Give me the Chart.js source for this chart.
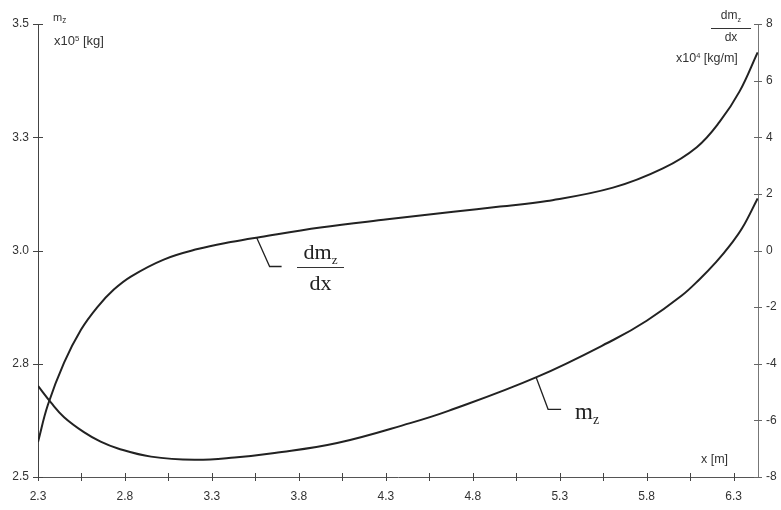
<!DOCTYPE html>
<html>
<head>
<meta charset="utf-8">
<title>m_z and dm_z/dx</title>
<script src="https://cdn.jsdelivr.net/npm/chart.js@4.4.1/dist/chart.umd.min.js"></script>
<style>
body{margin:0;background:#fff;}
#wrap{position:relative;width:781px;height:510px;font-family:"Liberation Sans",Arial,sans-serif;color:#333;}
#chart{position:absolute;left:0;top:0;}
.lbl{position:absolute;white-space:nowrap;line-height:1;}
.serif{font-family:"Liberation Serif","Times New Roman",serif;color:#222;}
.sub{font-size:60%;position:relative;top:0.35em;}
.sup{font-size:60%;position:relative;top:-0.5em;}
.frac{text-align:center;}
.bar{border-top:1px solid #333;}
</style>
</head>
<body>
<div id="wrap">
<canvas id="chart" width="781" height="510"></canvas>

<!-- axis captions -->
<div class="lbl" style="left:53px;top:12px;font-size:11px">m<span class="sub" style="font-size:75%;top:0.2em">z</span></div>
<div class="lbl" style="left:54px;top:34px;font-size:13px">x10<span class="sup">5</span> [kg]</div>

<div class="lbl frac" style="left:711px;top:9px;width:40px;font-size:12px">
  <div style="padding-bottom:7px">dm<span class="sub">z</span></div>
  <div class="bar" style="padding-top:2px">dx</div>
</div>
<div class="lbl" style="left:676px;top:52px;font-size:12.5px">x10<span class="sup">4</span> [kg/m]</div>
<div class="lbl" style="left:701px;top:453px;font-size:12.5px">x [m]</div>

<!-- curve labels -->
<div class="lbl serif frac" style="left:297px;top:241px;width:47px;font-size:22px">
  <div style="padding-bottom:4px">dm<span class="sub">z</span></div>
  <div class="bar" style="padding-top:4px">dx</div>
</div>
<div class="lbl serif" style="left:575px;top:400px;font-size:23px">m<span class="sub">z</span></div>
</div>

<script>
// m_z curve, x [m] and m_z [x10^5 kg]
let mzX=[2.30,2.375,2.45,2.564,2.66,2.76,2.95,3.20,3.43,3.66,4.02,4.44,4.66,5.17,5.61,5.80,6.00,6.10,6.20,6.28,6.35,6.438];
let mzY=[2.701,2.664,2.632,2.599,2.578,2.563,2.545,2.538,2.543,2.553,2.575,2.619,2.646,2.721,2.803,2.845,2.900,2.935,2.975,3.012,3.050,3.115];

// dm_z/dx curve, x [m] and dm/dx [x10^4 kg/m]
let dmX=[2.30,2.357,2.45,2.547,2.644,2.736,2.834,3.023,3.218,3.408,3.58,3.924,4.309,4.688,4.957,5.227,5.606,5.893,6.088,6.22,6.334,6.438];
let dmY=[-6.76,-5.45,-3.96,-2.80,-1.98,-1.38,-0.92,-0.32,0.05,0.30,0.48,0.81,1.10,1.37,1.55,1.75,2.22,2.90,3.65,4.55,5.62,7.00];

// tick positions
let xTicks=[2.3,2.55,2.8,3.05,3.3,3.55,3.8,4.05,4.3,4.55,4.8,5.05,5.3,5.55,5.8,6.05,6.3];
let mzTicks=[2.5,2.75,3.0,3.25,3.5];
let dmTicks=[-8,-6,-4,-2,0,2,4,6,8];

// where the two leader lines leave their curves
let dmAnchor=[3.557,0.46];
let mzAnchor=[5.164,2.720];

function pts(xs,ys){
    return xs.map(function(x,i){ return {x:x,y:ys[i]}; });
}

function setTicks(list){
    return function(scale){
        scale.ticks=list.map(function(v){ return {value:v}; });
    };
}

let tickFont={family:"'Liberation Sans', Arial, sans-serif",size:12};

// short tick marks that cross the axis lines, plus the label leaders
let crossTicks={
    id:"crossTicks",
    afterDraw:function(chart){
        let ctx=chart.ctx;
        let a=chart.chartArea;
        let sx=chart.scales.x, sy=chart.scales.y, sy2=chart.scales.y2;
        ctx.save();
        ctx.lineWidth=1;
        ctx.strokeStyle="#444";
        sx.ticks.forEach(function(t){
            let p=Math.round(sx.getPixelForValue(t.value))+0.5;
            ctx.beginPath(); ctx.moveTo(p,a.bottom-4); ctx.lineTo(p,a.bottom+4); ctx.stroke();
        });
        sy.ticks.forEach(function(t){
            let p=Math.round(sy.getPixelForValue(t.value))+0.5;
            ctx.beginPath(); ctx.moveTo(a.left-5,p); ctx.lineTo(a.left+5,p); ctx.stroke();
        });
        ctx.strokeStyle="#666";
        sy2.ticks.forEach(function(t){
            let p=Math.round(sy2.getPixelForValue(t.value))+0.5;
            ctx.beginPath(); ctx.moveTo(a.right-4,p); ctx.lineTo(a.right+4,p); ctx.stroke();
        });

        // leaders
        ctx.strokeStyle="#222";
        ctx.lineWidth=1.3;
        let x0=sx.getPixelForValue(dmAnchor[0]), y0=sy2.getPixelForValue(dmAnchor[1]);
        ctx.beginPath(); ctx.moveTo(x0,y0); ctx.lineTo(x0+13,y0+29); ctx.lineTo(x0+25,y0+29); ctx.stroke();
        x0=sx.getPixelForValue(mzAnchor[0]); y0=sy.getPixelForValue(mzAnchor[1]);
        ctx.beginPath(); ctx.moveTo(x0,y0); ctx.lineTo(x0+12,y0+32); ctx.lineTo(x0+25,y0+32); ctx.stroke();
        ctx.restore();
    }
};

new Chart($("chart"),{
    type:"line",
    data:{
        datasets:[{
            label:"m_z",
            data:pts(mzX,mzY),
            yAxisID:"y",
            borderColor:"#222",
            borderWidth:2,
            pointRadius:0,
            tension:0.4
        },{
            label:"dm_z/dx",
            data:pts(dmX,dmY),
            yAxisID:"y2",
            borderColor:"#222",
            borderWidth:2,
            pointRadius:0,
            tension:0.4
        }]
    },
    options:{
        responsive:false,
        animation:false,
        layout:{padding:{top:24}},
        plugins:{legend:{display:false},tooltip:{enabled:false}},
        scales:{
            x:{
                type:"linear",
                min:2.3,
                max:6.44,
                afterBuildTicks:setTicks(xTicks),
                afterFit:function(s){ s.height=33; },
                grid:{display:false,drawTicks:false},
                border:{display:true,color:"#555",width:1},
                ticks:{
                    autoSkip:false,
                    maxRotation:0,
                    padding:12,
                    color:"#333",
                    font:tickFont,
                    callback:function(v,i){ return i%2===0 ? v.toFixed(1) : ""; }
                }
            },
            y:{
                type:"linear",
                position:"left",
                min:2.5,
                max:3.5,
                afterBuildTicks:setTicks(mzTicks),
                afterFit:function(s){ s.width=38; },
                grid:{display:false,drawTicks:false},
                border:{display:true,color:"#444",width:1},
                ticks:{
                    padding:9,
                    color:"#333",
                    font:tickFont,
                    callback:function(v){ return v.toFixed(1); }
                }
            },
            y2:{
                type:"linear",
                position:"right",
                min:-8,
                max:8,
                afterBuildTicks:setTicks(dmTicks),
                afterFit:function(s){ s.width=23; },
                grid:{display:false,drawTicks:false},
                border:{display:true,color:"#777",width:1,dash:[2,1]},
                ticks:{
                    padding:8,
                    color:"#333",
                    font:tickFont,
                    callback:function(v){ return String(v); }
                }
            }
        }
    },
    plugins:[crossTicks]
});

function $(id){
    return document.getElementById(id);
}
</script>
</body>
</html>
